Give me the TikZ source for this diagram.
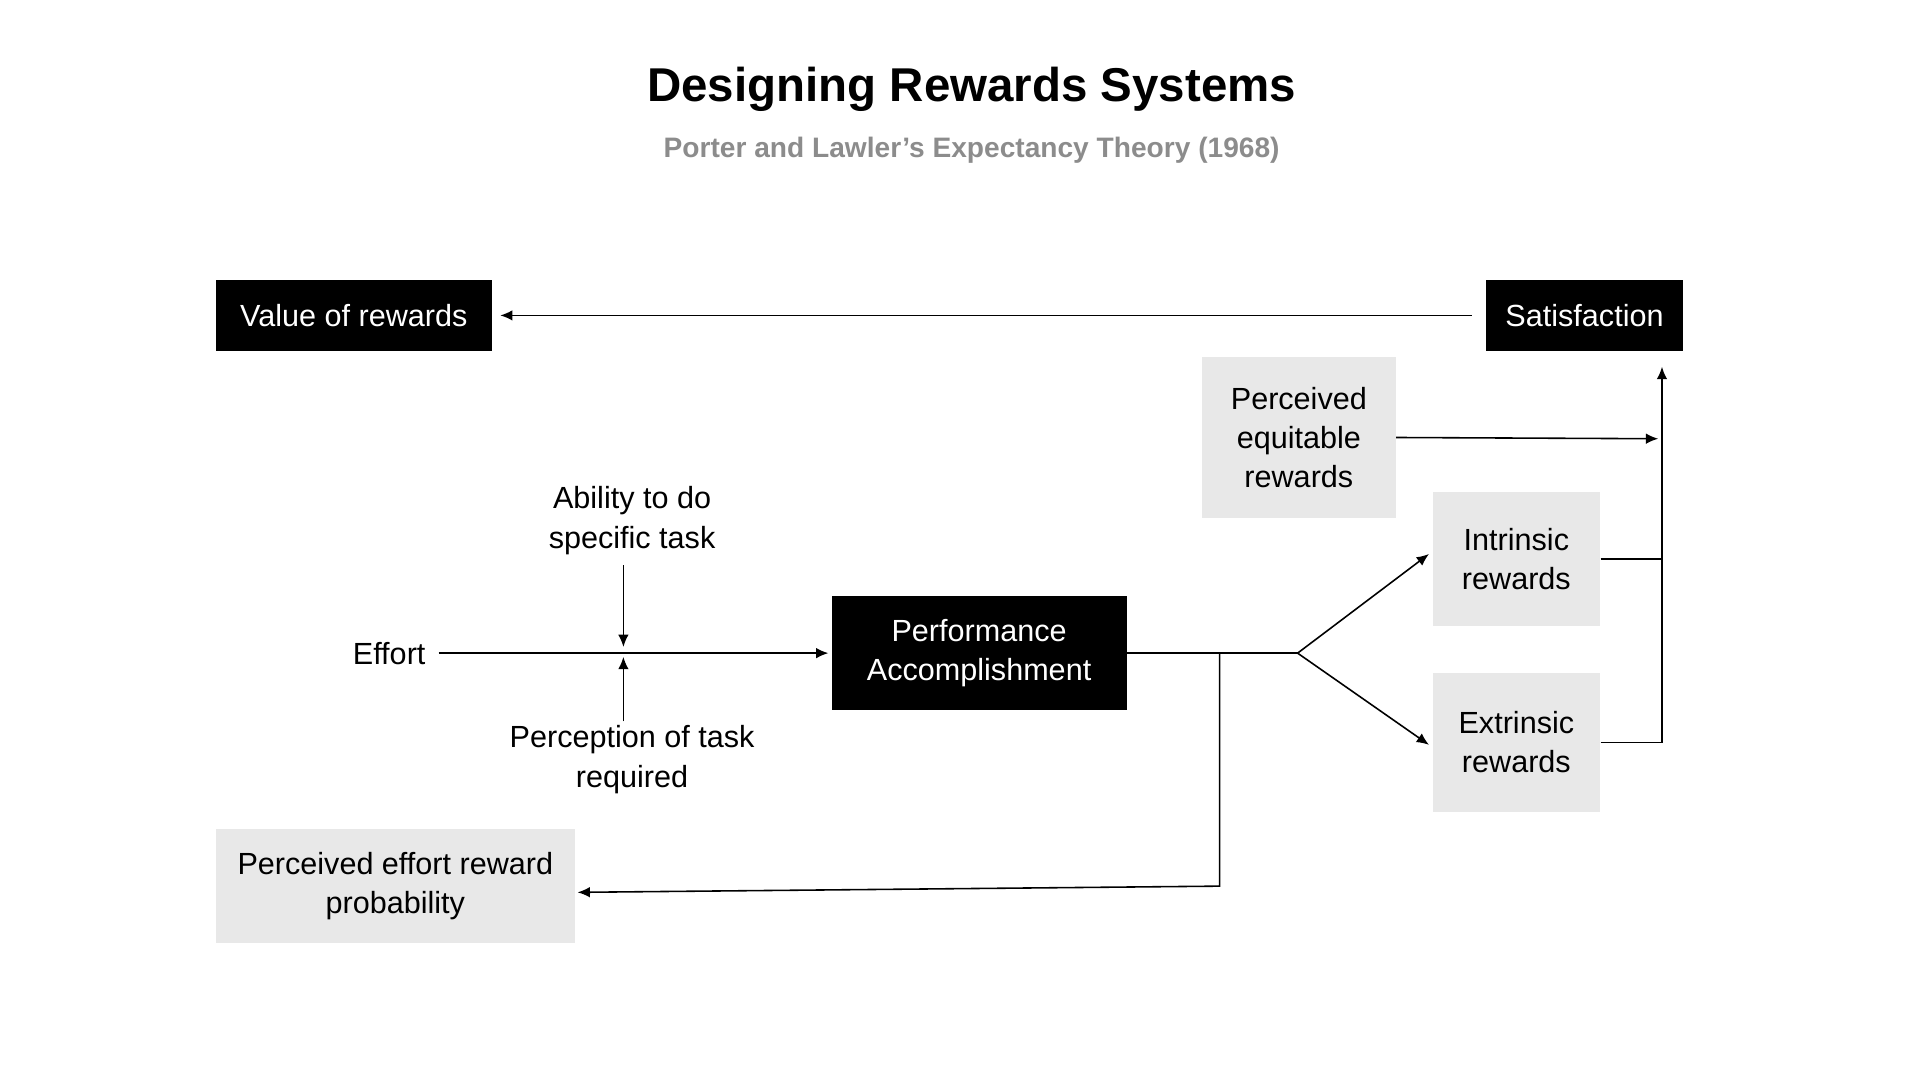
\documentclass[tikz,border=0pt]{standalone}
\usepackage{fontspec}
\setmainfont{Liberation Sans}
\usetikzlibrary{arrows.meta}
\newdimen\pu \pu=0.01239cm
\begin{document}
\begin{tikzpicture}[x=0.01239cm,y=-0.01239cm,
  blk/.style={fill=black,text=white,inner sep=0,font=\fontsize{8.7}{11.2}\selectfont,align=center},
  gry/.style={fill=black!9,text=black,inner sep=0,font=\fontsize{8.7}{11.2}\selectfont,align=center},
  lbl/.style={font=\fontsize{8.7}{11.2}\selectfont,align=center},
  ln/.style={line width=0.45pt},
  ar/.style={ln,-{Latex[length=3.5pt,width=3pt]}}]
\useasboundingbox (0,0) rectangle (1550,872);
\node[font=\bfseries\fontsize{13.5}{16}\selectfont] (title) at (784,72) {Designing Rewards Systems};
\node[font=\bfseries\fontsize{8}{10}\selectfont,text=black!45] (sub) at (784,121) {Porter and Lawler's Expectancy Theory (1968)};
\node[blk,minimum width=223\pu,minimum height=57\pu] (val) at (285.5,254.5) {Value of rewards};
\node[blk,minimum width=159\pu,minimum height=57\pu] (sat) at (1278.5,254.5) {Satisfaction};
\node[gry,minimum width=156\pu,minimum height=130\pu] (eq) at (1048,353) {Perceived\\equitable\\rewards};
\node[gry,minimum width=135\pu,minimum height=108\pu] (in) at (1223.5,451) {Intrinsic\\rewards};
\node[gry,minimum width=135\pu,minimum height=112\pu] (ex) at (1223.5,599) {Extrinsic\\rewards};
\node[blk,minimum width=238\pu,minimum height=92\pu] (perf) at (790,527) {Performance\\Accomplishment};
\node[gry,minimum width=290\pu,minimum height=92\pu] (prob) at (319,715) {Perceived effort reward\\probability};
\node[lbl] (eff) at (314,527) {Effort};
\node[lbl] (abil) at (510,420) {Ability to do\\specific task};
\node[lbl] (perc) at (510,613) {Perception of task\\required};
\coordinate (c1) at (503,527);
\coordinate (sp) at (984,527);
\coordinate (br) at (1047,527);
\draw[ar] ([xshift=-11\pu]sat.west) -- ([xshift=6\pu]val.east);
\draw[ar] (354,527) -- ([xshift=-2\pu]perf.west);
\draw[ar] (503,456) -- ([yshift=5\pu]c1);
\draw[ar] (503,582) -- ([yshift=-3\pu]c1);
\draw[ln] (perf.east) -- (br);
\draw[ar] (br) -- (1153,447);
\draw[ar] (br) -- (1153,601);
\draw[ar] (sp) -- (984,715) -- (466,720);
\draw[ar] (eq.east) -- (1338,354);
\draw[ln] (in.east) -- (1341,451);
\draw[ar] (ex.east) -- (1341,599) -- (1341,296);
\end{tikzpicture}
\end{document}
